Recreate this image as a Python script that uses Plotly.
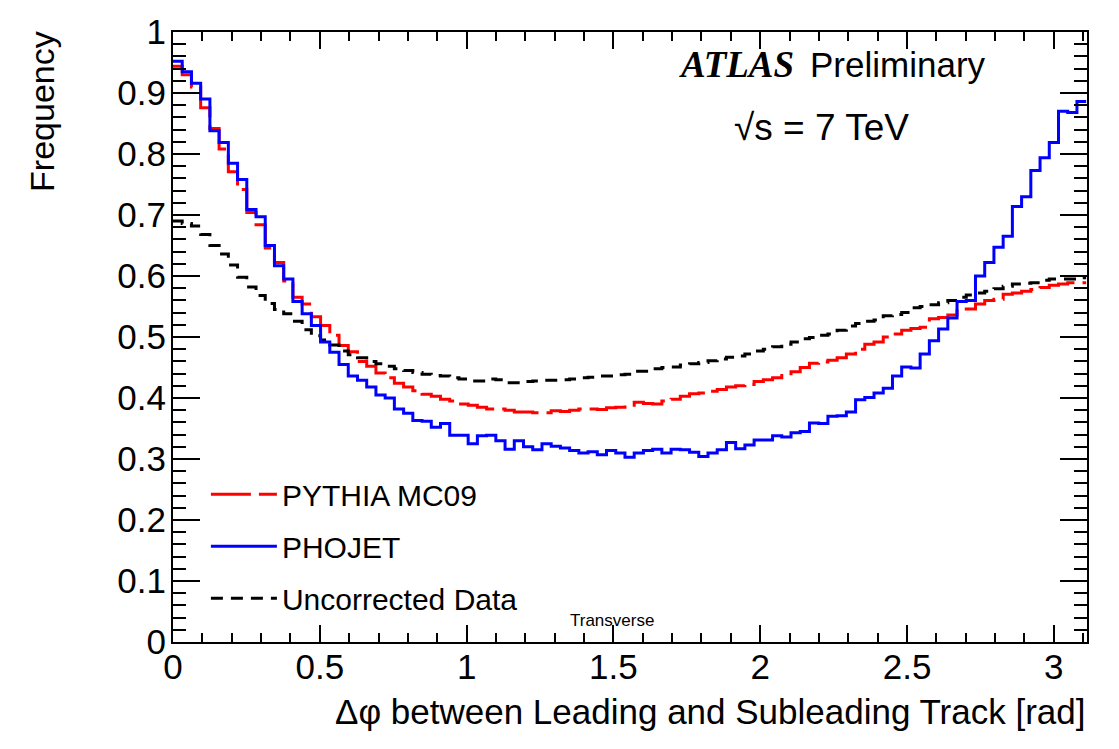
import numpy as np
import plotly.graph_objects as go

# 99 visible bins of width pi/100 on [0, pi)
n_bins = 99
bin_width = np.pi / 100

pythia = [0.944, 0.930, 0.910, 0.876, 0.842, 0.808, 0.771, 0.742, 0.704, 0.684,
          0.646, 0.622, 0.592, 0.565, 0.554, 0.533, 0.519, 0.503, 0.486, 0.476,
          0.460, 0.452, 0.441, 0.433, 0.424, 0.418, 0.412, 0.406, 0.403, 0.398,
          0.395, 0.390, 0.388, 0.385, 0.382, 0.382, 0.380, 0.377, 0.377, 0.376,
          0.376, 0.379, 0.378, 0.380, 0.382, 0.382, 0.381, 0.384, 0.385, 0.388,
          0.393, 0.391, 0.390, 0.395, 0.398, 0.403, 0.407, 0.408, 0.411, 0.414,
          0.418, 0.420, 0.422, 0.427, 0.430, 0.433, 0.437, 0.443, 0.450, 0.457,
          0.459, 0.462, 0.466, 0.472, 0.480, 0.488, 0.492, 0.500, 0.505, 0.511,
          0.514, 0.516, 0.530, 0.532, 0.536, 0.543, 0.546, 0.554, 0.560, 0.562,
          0.570, 0.572, 0.575, 0.578, 0.581, 0.585, 0.587, 0.589, 0.589]

phojet = [0.952, 0.935, 0.916, 0.890, 0.838, 0.819, 0.785, 0.758, 0.709, 0.697,
          0.650, 0.617, 0.595, 0.558, 0.538, 0.519, 0.492, 0.475, 0.455, 0.436,
          0.429, 0.418, 0.405, 0.400, 0.382, 0.375, 0.363, 0.362, 0.352, 0.358,
          0.339, 0.339, 0.325, 0.338, 0.339, 0.330, 0.316, 0.330, 0.320, 0.315,
          0.325, 0.321, 0.318, 0.314, 0.310, 0.312, 0.307, 0.314, 0.310, 0.303,
          0.310, 0.314, 0.316, 0.310, 0.316, 0.315, 0.311, 0.304, 0.310, 0.315,
          0.327, 0.317, 0.323, 0.331, 0.331, 0.338, 0.336, 0.343, 0.345, 0.359,
          0.358, 0.370, 0.371, 0.377, 0.397, 0.401, 0.408, 0.416, 0.436, 0.451,
          0.449, 0.472, 0.494, 0.513, 0.531, 0.558, 0.560, 0.600, 0.622, 0.647,
          0.665, 0.714, 0.730, 0.773, 0.794, 0.819, 0.870, 0.868, 0.886]

data = [0.690, 0.686, 0.682, 0.668, 0.650, 0.636, 0.618, 0.598, 0.582, 0.568,
        0.555, 0.545, 0.538, 0.526, 0.512, 0.502, 0.495, 0.487, 0.477, 0.471,
        0.466, 0.460, 0.456, 0.452, 0.448, 0.445, 0.442, 0.439, 0.437, 0.436,
        0.433, 0.431, 0.428, 0.428, 0.431, 0.430, 0.425, 0.425, 0.427, 0.428,
        0.429, 0.429, 0.430, 0.431, 0.433, 0.434, 0.436, 0.436, 0.438, 0.439,
        0.444, 0.444, 0.448, 0.450, 0.451, 0.454, 0.456, 0.458, 0.461, 0.464,
        0.467, 0.469, 0.472, 0.477, 0.480, 0.484, 0.488, 0.492, 0.497, 0.499,
        0.503, 0.505, 0.511, 0.518, 0.522, 0.526, 0.528, 0.535, 0.537, 0.540,
        0.548, 0.550, 0.553, 0.556, 0.560, 0.565, 0.569, 0.572, 0.575, 0.579,
        0.583, 0.587, 0.588, 0.589, 0.593, 0.595, 0.595, 0.595, 0.597]

x_ticks = [0, 0.5, 1, 1.5, 2, 2.5, 3]
x_tick_labels = ["0", "0.5", "1", "1.5", "2", "2.5", "3"]
y_ticks = [0, 0.1, 0.2, 0.3, 0.4, 0.5, 0.6, 0.7, 0.8, 0.9, 1]
y_tick_labels = ["0", "0.1", "0.2", "0.3", "0.4", "0.5", "0.6", "0.7", "0.8", "0.9", "1"]

edges = np.arange(n_bins + 1) * bin_width


def step(vals):
    return list(edges), list(vals) + [vals[-1]]


FONT = "Liberation Sans, Arial, Helvetica, sans-serif"

fig = go.Figure()
xs, ys = step(pythia)
fig.add_trace(go.Scatter(x=xs, y=ys, mode="lines", line_shape="hv",
                         line=dict(color="#ff0000", width=3, dash="40px,8px"),
                         name="PYTHIA MC09", legendgroup="a", legendrank=1))
xs, ys = step(data)
fig.add_trace(go.Scatter(x=xs, y=ys, mode="lines", line_shape="hv",
                         line=dict(color="#000000", width=3, dash="12px,8px"),
                         name="Uncorrected Data", legendgroup="c", legendrank=3))
xs, ys = step(phojet)
fig.add_trace(go.Scatter(x=xs, y=ys, mode="lines", line_shape="hv",
                         line=dict(color="#0000ff", width=3),
                         name="PHOJET", legendgroup="b", legendrank=2))

axis_common = dict(showline=True, linecolor="black", linewidth=2, mirror="ticks",
                   ticks="inside", tickcolor="black", tickwidth=1.5,
                   showgrid=False, zeroline=False,
                   tickfont=dict(family=FONT, size=35, color="black"))

fig.update_xaxes(range=[0, 3.113], tickvals=x_ticks, ticktext=x_tick_labels,
                 ticklen=17, ticklabelstandoff=-7,
                 minor=dict(ticks="inside", dtick=0.1, tick0=0, ticklen=9,
                            tickcolor="black", tickwidth=1.5, showgrid=False),
                 **axis_common)
fig.update_yaxes(range=[0, 1], tickvals=y_ticks, ticktext=y_tick_labels,
                 ticklen=27, ticklabelstandoff=-2,
                 minor=dict(ticks="inside", dtick=0.02, tick0=0, ticklen=13,
                            tickcolor="black", tickwidth=1.5, showgrid=False),
                 **axis_common)

fig.update_layout(
    width=1119, height=749,
    margin=dict(l=173, r=32, t=22, b=107),
    plot_bgcolor="white", paper_bgcolor="white",
    showlegend=True,
    legend=dict(x=0.036, y=0.285, xanchor="left", yanchor="top",
                bgcolor="rgba(0,0,0,0)", borderwidth=0,
                font=dict(family=FONT, size=30, color="black"),
                itemwidth=66, tracegroupgap=10, traceorder="grouped"),
    annotations=[
        dict(text="Frequency", textangle=-90, xref="paper", yref="paper",
             x=-0.1433, y=0.869, xanchor="center", yanchor="middle", showarrow=False,
             font=dict(family=FONT, size=34, color="black")),
        dict(text="Δφ between Leading and Subleading Track [rad]", xref="paper", yref="paper",
             x=1.0, y=-0.1145, xanchor="right", yanchor="middle", showarrow=False,
             font=dict(family=FONT, size=35, color="black")),
        dict(text="<b><i>ATLAS</i></b>", xref="paper", yref="paper",
             x=0.617, y=0.947, xanchor="center", yanchor="middle", showarrow=False,
             font=dict(family="Liberation Serif, Times New Roman, serif", size=37, color="black")),
        dict(text="Preliminary", xref="paper", yref="paper",
             x=0.6947, y=0.947, xanchor="left", yanchor="middle", showarrow=False,
             font=dict(family=FONT, size=35, color="black")),
        dict(text="√s = 7 TeV", xref="paper", yref="paper",
             x=0.710, y=0.843, xanchor="center", yanchor="middle", showarrow=False,
             font=dict(family=FONT, size=37, color="black")),
        dict(text="Transverse", xref="paper", yref="paper",
             x=0.4803, y=0.0355, xanchor="center", yanchor="middle", showarrow=False,
             font=dict(family=FONT, size=17, color="black")),
    ],
)

fig.write_html("out.html")
